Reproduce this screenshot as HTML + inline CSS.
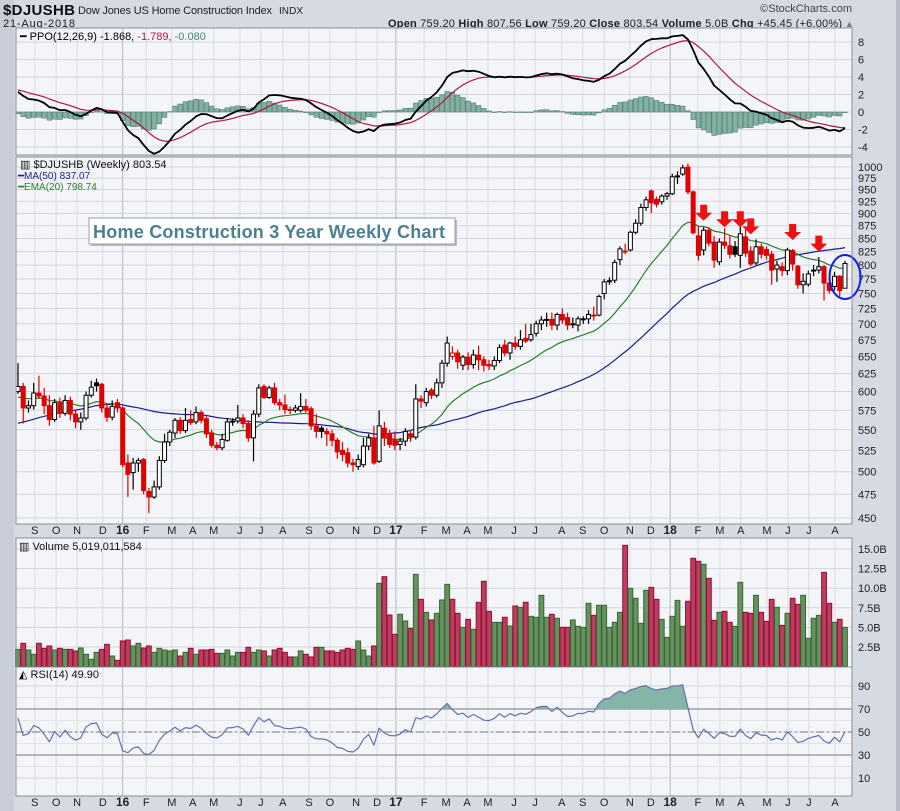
<!DOCTYPE html>
<html><head><meta charset="utf-8"><style>
html,body{margin:0;padding:0;background:#d6dae3;}
svg{display:block;font-family:"Liberation Sans",sans-serif;}
</style></head><body>
<svg id="chart" width="900" height="811" viewBox="0 0 900 811" xmlns="http://www.w3.org/2000/svg">
<rect x="0" y="0" width="900" height="811" fill="#d6dae3"/>
<rect x="0" y="0" width="14" height="811" fill="#c9cdd8"/>
<rect x="896" y="0" width="4" height="811" fill="#b8bcc7"/>
<g>
<text x="3" y="15" font-size="15" font-weight="bold" fill="#111" textLength="72">$DJUSHB</text>
<text x="78" y="14" font-size="11" fill="#222" textLength="194">Dow Jones US Home Construction Index</text>
<text x="279" y="14" font-size="10" fill="#222" textLength="24">INDX</text>
<text x="3" y="27" font-size="11" fill="#222" textLength="72">21-Aug-2018</text>
<text x="852" y="12" font-size="11" fill="#444" text-anchor="end">©StockCharts.com</text>
<text x="388" y="27" font-size="11" fill="#222" textLength="454"><tspan font-weight="bold">Open</tspan> 759.20 <tspan font-weight="bold">High</tspan> 807.56 <tspan font-weight="bold">Low</tspan> 759.20 <tspan font-weight="bold">Close</tspan> 803.54 <tspan font-weight="bold">Volume</tspan> 5.0B <tspan font-weight="bold">Chg</tspan> +45.45 (+6.00%)</text>
<text x="845" y="27" font-size="9" fill="#777">▲</text>
</g>
<g id="panels"></g>
</svg>
<script>
// ---------- data ----------
const historyCloses=[490,495,500,505,498,490,485,495,505,512,520,515,508,515,525,530,540,545,555,560,565,570,575,568,560,555,562,570,575,580,585,578,570,565,572,580,590,595,590,585,592,600,605,598,590,600,610,615,608,600];
const opens=[600,607,578,581,598,594,581,563,585,571,588,570,560,565,595,612,610,578,566,585,578,510,499,510,514,478,472,483,513,535,546,562,549,563,560,572,564,546,531,528,537,560,561,565,558,540,570,607,592,605,585,582,576,575,575,580,577,555,552,548,545,537,525,522,510,506,508,530,540,512,552,545,538,532,536,545,541,590,585,602,595,612,640,650,655,637,649,638,652,645,638,636,644,667,655,670,665,677,675,685,700,707,707,698,715,710,700,698,708,708,714,714,750,772,773,810,826,828,862,880,912,947,929,924,936,941,978,984,1000,945,855,828,866,843,806,843,836,834,818,853,826,804,834,829,820,793,797,790,827,798,765,766,790,791,797,768,762,780,759];
const closes=[607,578,581,598,594,581,563,585,571,588,570,560,565,595,606,608,578,566,580,578,508,497,510,513,479,472,483,513,535,547,562,549,562,559,572,562,545,531,528,538,560,561,565,558,540,570,605,592,605,585,582,576,575,578,580,575,555,548,548,545,537,523,520,510,508,514,530,540,510,555,540,532,531,536,548,541,590,587,600,595,612,640,670,655,642,649,638,652,645,637,636,644,663,655,670,665,675,673,683,700,706,707,698,715,706,698,700,708,708,715,714,745,770,772,805,830,826,862,880,912,928,922,919,936,941,978,980,998,945,861,818,866,841,809,843,837,820,820,859,822,802,834,820,818,791,800,790,828,802,765,771,784,791,797,768,755,780,755,803];
const highs=[640,612,588,612,622,605,595,590,592,595,593,575,572,600,615,618,612,584,588,590,580,520,516,516,516,482,490,518,545,550,565,566,578,575,580,575,567,550,535,545,565,565,582,570,562,575,610,610,608,612,590,596,580,582,598,590,580,570,555,552,550,540,535,528,515,520,540,545,555,575,560,550,548,540,552,550,610,595,605,605,618,645,680,665,660,652,656,660,666,650,645,650,668,675,672,680,690,700,700,705,712,718,718,718,725,718,710,712,712,722,728,748,775,778,810,835,840,865,888,920,935,950,935,940,945,985,990,1005,1008,948,875,872,872,855,850,870,855,845,900,870,835,848,840,835,826,808,805,832,830,800,785,790,800,815,800,775,788,782,808];
const lows=[597,558,572,576,590,570,555,560,565,568,562,552,550,562,592,600,572,560,562,572,505,472,480,500,475,455,470,480,510,530,540,545,546,556,557,558,540,528,525,525,535,555,558,552,535,512,566,590,590,582,575,570,570,572,572,572,550,540,540,530,530,515,512,505,500,502,505,525,508,510,530,528,525,525,530,535,538,578,580,590,592,605,635,645,632,630,630,632,630,628,630,630,640,650,645,660,660,670,672,680,690,695,690,690,700,690,693,688,700,700,705,712,740,765,768,800,820,825,858,875,905,900,912,918,928,938,962,980,940,858,808,818,835,795,800,830,812,815,795,815,798,800,812,810,765,770,780,782,790,758,750,762,780,785,738,750,755,745,759];
const volumes=[2.20,2.97,2.12,1.57,2.97,2.33,2.63,2.12,2.33,2.20,2.20,2.00,2.37,1.57,0.93,1.82,2.20,2.84,1.35,0.80,3.27,3.39,2.63,2.97,2.37,2.63,1.82,2.33,2.12,2.00,2.12,1.35,1.82,2.33,1.57,2.12,2.12,2.20,1.69,1.69,2.12,1.35,1.82,1.82,2.46,1.82,2.12,2.00,1.35,2.12,2.33,1.82,1.23,1.23,2.00,1.57,1.23,2.46,2.46,2.00,2.00,1.82,2.12,2.33,2.20,3.27,2.12,1.35,2.63,10.62,11.47,6.58,4.12,6.67,5.82,4.88,11.77,8.58,6.92,5.95,6.80,8.50,10.49,8.58,6.80,5.01,6.03,4.75,8.20,10.88,7.05,5.65,5.65,6.29,5.18,7.73,7.56,8.20,6.41,6.29,9.09,6.29,6.67,6.16,5.01,5.01,5.95,5.14,5.01,8.07,6.54,7.82,7.82,5.01,5.65,6.92,15.47,9.98,8.71,5.52,9.73,10.11,8.58,6.03,3.73,6.41,8.45,5.14,8.33,13.81,13.43,13.05,11.26,5.90,6.92,7.05,5.65,5.14,10.75,6.92,6.80,9.09,6.92,5.77,8.58,7.56,5.26,6.80,8.71,7.94,9.09,3.61,6.16,6.54,12.02,8.07,5.65,6.03,5.01];
const monthLabels=["S","O","N","D","16","F","M","A","M","J","J","A","S","O","N","D","17","F","M","A","M","J","J","A","S","O","N","D","18","F","M","A","M","J","J","A"];
const monthWeeks=[3.2,7.3,11.3,16.2,20,24.5,29.4,33.4,37.4,42.4,46.4,50.6,55.6,59.6,64.6,68.6,72.2,77.6,81.8,85.8,89.8,94.8,98.8,103.9,107.9,112,116.9,120.9,124.6,129.9,134.1,138.1,143.1,147.1,151.1,156.1];
const priceTicks=[450,475,500,525,550,575,600,625,650,675,700,725,750,775,800,825,850,875,900,925,950,975,1000];
const ppoTicks=[-4,-2,0,2,4,6,8];
const volTicks=[2.5,5,7.5,10,12.5,15];
const volTickLabels=["2.5B","5.0B","7.5B","10.0B","12.5B","15.0B"];
const rsiTicks=[10,30,50,70,90];
const arrowWeeks=[131,135,138,140,148,153];
const arrowPrices=[885,872,872,858,847,825];

// ---------- axes ----------
const L=16,R=852;
const X=i=>18+i*5.234;
const PY=p=>167+Math.log(1000/p)*439.6;
const PPOY=v=>112-v*8.75;
const VY=v=>666.6-v*7.84;
const RY=v=>686+(90-v)*1.15;
const NS="http://www.w3.org/2000/svg";
const root=document.getElementById('panels');
function mk(tag,attrs,parent){const e=document.createElementNS(NS,tag);for(const k in attrs)e.setAttribute(k,attrs[k]);(parent||root).appendChild(e);return e;}

// ---------- indicators ----------
const all=historyCloses.concat(closes);const H0=historyCloses.length;
function ema(arr,n){const k=2/(n+1);const out=[arr[0]];for(let i=1;i<arr.length;i++)out.push(arr[i]*k+out[i-1]*(1-k));return out;}
const e12=ema(all,12),e26=ema(all,26),e20=ema(all,20);
const ppoAll=all.map((v,i)=>(e12[i]-e26[i])/e26[i]*100);
const sigAll=ema(ppoAll,9);
const ppo=ppoAll.slice(H0),sig=sigAll.slice(H0),ema20=e20.slice(H0);
const hist=ppo.map((v,i)=>v-sig[i]);
const ma50=closes.map((c,i)=>{const j=i+H0;let s=0;for(let k=j-49;k<=j;k++)s+=all[k];return s/50;});
let ag=0,al=0;for(let k=1;k<=14;k++){const d=all[k]-all[k-1];if(d>0)ag+=d;else al-=d;}ag/=14;al/=14;
const rsiAll=[];for(let k=15;k<all.length;k++){const d=all[k]-all[k-1];ag=(ag*13+Math.max(d,0))/14;al=(al*13+Math.max(-d,0))/14;rsiAll[k]=100-100/(1+ag/(al||1e-9));}
const rsi=closes.map((c,i)=>rsiAll[i+H0]);

// ---------- panels ----------
const panels=[["ppo-panel",28,155],["price-panel",157,524],["volume-panel",538,667],["rsi-panel",667,796]];
panels.forEach(p=>{const r=mk('rect',{x:L,y:p[1],width:R-L,height:p[2]-p[1],fill:'#f4f5f9',stroke:'none'});

});
// vertical grid
panels.forEach(p=>{monthLabels.forEach((lab,k)=>{const x=X(monthWeeks[k]);const yr=/\d/.test(lab);
const ln=mk('line',{x1:x,x2:x,y1:p[1],y2:p[2],stroke:yr?'#b2b6bf':'#d9dce3','stroke-width':1});

});});
// x labels
[530,802].forEach(ly=>{monthLabels.forEach((lab,k)=>{const yr=/\d/.test(lab);
const t=mk('text',{x:X(monthWeeks[k]),y:ly+4,'font-size':yr?12:11,'font-weight':yr?'bold':'normal','text-anchor':'middle',fill:'#222'});t.textContent=lab;

});});
// horizontal grids + labels
function hgrid(vals,yf,labels,name,dash){vals.forEach((v,k)=>{const y=yf(v);
const ln=mk('line',{x1:L,x2:R,y1:y,y2:y,stroke:'#d2d5dd','stroke-width':1});


const t=mk('text',{x:858,y:y+4,'font-size':11,fill:'#222'});t.textContent=labels?labels[k]:v;

});}
hgrid(ppoTicks,PPOY,null,'ppo');
hgrid(priceTicks,PY,null,'price');
hgrid(volTicks,VY,volTickLabels,'volume');
hgrid(rsiTicks,RY,null,'rsi');
// RSI minor grid
[20,40,60,80].forEach(v=>{const ln=mk('line',{x1:L,x2:R,y1:RY(v),y2:RY(v),stroke:'#e1e3e9'});

});
[70,30].forEach(v=>{const ln=mk('line',{x1:L,x2:R,y1:RY(v),y2:RY(v),stroke:'#777','stroke-width':1});

});
{const ln=mk('line',{x1:L,x2:R,y1:RY(50),y2:RY(50),stroke:'#777','stroke-dasharray':'8,3,2,3'});

}

// ---------- PPO ----------
hist.forEach((h,i)=>{const y0=PPOY(0),y1=PPOY(h);
const b=mk('rect',{x:X(i)-2.3,y:Math.min(y0,y1),width:4.6,height:Math.max(0.5,Math.abs(y1-y0)),fill:'#82b0a3',stroke:'#527f74','stroke-width':0.6});

});
function line(vals,yf,color,w,name){const d=vals.map((v,i)=>(i?'L':'M')+X(i).toFixed(1)+','+yf(v).toFixed(1)).join('');
const p=mk('path',{d:d,fill:'none',stroke:color,'stroke-width':w,'stroke-linejoin':'round'});

return d;}
line(sig,PPOY,'#b0183c',1.2,'ppo-signal-line');
line(ppo,PPOY,'#000',1.8,'ppo-line');

// ---------- price ----------
line(ma50,PY,'#1c1c8a',1.2,'ma50-line');
line(ema20,PY,'#2b7d2b',1.2,'ema20-line');
closes.forEach((c,i)=>{const o=opens[i];const prev=i?closes[i-1]:o;const col=c<prev?'#e00000':'#000';const x=X(i);
const w=mk('line',{x1:x,x2:x,y1:PY(highs[i]),y2:PY(lows[i]),stroke:col,'stroke-width':1.2});


const yt=PY(Math.max(o,c)),yb=PY(Math.min(o,c));
const b=mk('rect',{x:x-2,y:yt,width:4,height:Math.max(1,yb-yt),fill:c<o?col:'#fff',stroke:col,'stroke-width':1});

});
// arrows
arrowWeeks.forEach((wk,k)=>{const x=X(wk),y=PY(arrowPrices[k]);
const a=mk('path',{d:`M${x-3.5},${y-16}h7v8h5l-8.5,8l-8.5,-8h5z`,fill:'#ee1111'});

});
{const e=mk('ellipse',{cx:845,cy:277,rx:15.5,ry:22,fill:'none',stroke:'#1020e0','stroke-width':2});

}

// ---------- volume ----------
volumes.forEach((v,i)=>{const up=i===0||closes[i]>=closes[i-1];
const b=mk('rect',{x:X(i)-2.4,y:VY(v),width:4.8,height:666.6-VY(v),fill:up?'#6a8f62':'#b8405f',stroke:up?'#2f6a2c':'#9a0a35','stroke-width':1});

});

// ---------- RSI ----------
{const cp=mk('clipPath',{id:'above70'});mk('rect',{x:L,y:667,width:R-L,height:RY(70)-667},cp);
const d=rsi.map((v,i)=>(i?'L':'M')+X(i).toFixed(1)+','+RY(v).toFixed(1)).join('')+`L${X(rsi.length-1)},${RY(70)}L${X(0)},${RY(70)}Z`;
const f=mk('path',{d:d,fill:'#85b5a9','clip-path':'url(#above70)'});

}
line(rsi,RY,'#6670a8',1.2,'rsi-line');

// panel borders
panels.forEach(p=>{const r=mk('rect',{x:L,y:p[1],width:R-L,height:p[2]-p[1],fill:'none',stroke:'#8a8e96','stroke-width':1});

});
</script>
<svg width="0" height="0"></svg>
<script>
(function(){const s=document.getElementById('chart');const NS="http://www.w3.org/2000/svg";
function T(x,y,txt,fill,name,size){const t=document.createElementNS(NS,'text');t.setAttribute('x',x);t.setAttribute('y',y);t.setAttribute('font-size',size||11);t.setAttribute('fill',fill);t.textContent=txt;


s.appendChild(t);return t;}
const p=T(20,40,'','#000','ppo-legend');
p.innerHTML='<tspan>━ PPO(12,26,9) -1.868,</tspan><tspan fill="#b0183c"> -1.789,</tspan><tspan fill="#3a8a78"> -0.080</tspan>';
T(20,168,'▥ $DJUSHB (Weekly) 803.54','#111','price-legend',11);
T(18,179,'━MA(50) 837.07','#1c1c8a','ma50-legend',10);
T(18,190,'━EMA(20) 798.74','#2b7d2b','ema20-legend',10);
T(19,550,'▥ Volume 5,019,011,584','#111','volume-legend',11);
T(19,678,'◭ RSI(14) 49.90','#111','rsi-legend',11);
const g=document.createElementNS(NS,'g');


s.appendChild(g);
const sh=document.createElementNS(NS,'rect');sh.setAttribute('x',91);sh.setAttribute('y',220);sh.setAttribute('width',366);sh.setAttribute('height',26);sh.setAttribute('fill','#b9bcc4');g.appendChild(sh);
const bx=document.createElementNS(NS,'rect');bx.setAttribute('x',89);bx.setAttribute('y',218);bx.setAttribute('width',366);bx.setAttribute('height',26);bx.setAttribute('fill','#fff');bx.setAttribute('stroke','#9a9ea6');g.appendChild(bx);
const tt=document.createElementNS(NS,'text');tt.setAttribute('x',93);tt.setAttribute('y',238);tt.setAttribute('font-size',18);tt.setAttribute('font-weight','bold');tt.setAttribute('fill','#4a8090');tt.setAttribute('textLength',352);tt.textContent='Home Construction 3 Year Weekly Chart';


g.appendChild(tt);
})();
</script>
</body></html>
